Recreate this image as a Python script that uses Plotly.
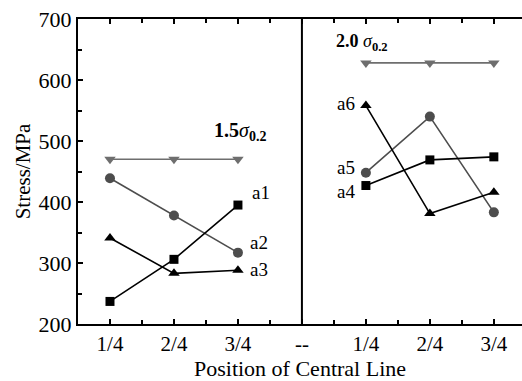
import plotly.graph_objects as go

# categories: positions 1..3 = group 1.5σ, 4 = divider, 5..7 = group 2.0σ
tick_positions = [1, 2, 3, 4, 5, 6, 7]
tick_labels = ["1/4", "2/4", "3/4", "--", "1/4", "2/4", "3/4"]
y_ticks = [200, 300, 400, 500, 600, 700]

left_x = [1, 2, 3]
right_x = [5, 6, 7]

ref_left = [470, 470, 470]
a1 = [237, 306, 395]
a2 = [439, 378, 317]
a3 = [341, 283, 288]

ref_right = [628, 628, 628]
a4 = [427, 469, 474]
a5 = [448, 540, 383]
a6 = [558, 381, 416]

FONT = "Liberation Serif, Times New Roman, serif"
BLACK = "#000000"
DARK = "#4d4d4d"
GRAY = "#6e6e6e"

fig = go.Figure()

def add(x, y, color, symbol, size):
    fig.add_trace(go.Scatter(
        x=x, y=y, mode="lines+markers",
        line=dict(color=color, width=1.6),
        marker=dict(symbol=symbol, size=size, color=color),
        showlegend=False, cliponaxis=False))

add(left_x, ref_left, GRAY, "triangle-down", 10)
add(left_x, a2, DARK, "circle", 10)
add(left_x, a3, BLACK, "triangle-up", 10)
add(left_x, a1, BLACK, "square", 9)
add(right_x, ref_right, GRAY, "triangle-down", 10)
add(right_x, a5, DARK, "circle", 10)
add(right_x, a6, BLACK, "triangle-up", 10)
add(right_x, a4, BLACK, "square", 9)

# divider line at the "--" category
fig.add_shape(type="line", xref="x", yref="y", x0=4, x1=4, y0=200, y1=700,
              line=dict(color=BLACK, width=2))

ann = [
    (3.19, 416, "a1", "left"),
    (3.16, 334, "a2", "left"),
    (3.16, 289, "a3", "left"),
    (4.86, 418, "a4", "right"),
    (4.86, 457, "a5", "right"),
    (4.86, 561, "a6", "right"),
]
for x, y, t, anc in ann:
    fig.add_annotation(x=x, y=y, xref="x", yref="y", text=t, showarrow=False,
                       xanchor=anc, yanchor="middle",
                       font=dict(family=FONT, size=19, color=BLACK))

fig.add_annotation(x=2.59, y=515, xref="x", yref="y",
                   text="<b>1.5</b><i>σ</i><sub><b>0.2</b></sub>", showarrow=False,
                   xanchor="left", yanchor="middle",
                   font=dict(family=FONT, size=20, color=BLACK))
fig.add_annotation(x=4.5, y=661, xref="x", yref="y",
                   text="<b>2.0</b> <i>σ</i><sub><b>0.2</b></sub>", showarrow=False,
                   xanchor="left", yanchor="middle",
                   font=dict(family=FONT, size=18, color=BLACK))

fig.update_layout(
    width=522, height=381,
    margin=dict(l=78, r=0, t=19, b=57),
    paper_bgcolor="white", plot_bgcolor="white",
    font=dict(family=FONT, color=BLACK),
    xaxis=dict(
        range=[0.5, 7.44], tickmode="array", tickvals=tick_positions,
        ticktext=tick_labels, automargin=False,
        showgrid=False, zeroline=False, showline=True, linecolor=BLACK, linewidth=2,
        ticks="inside", ticklen=5, tickwidth=1.5, tickcolor=BLACK, mirror="ticks",
        minor=dict(tickvals=[1.5, 2.5, 3.5, 4.5, 5.5, 6.5], ticks="inside", ticklen=4,
                   tickwidth=1.5, tickcolor=BLACK),
        tickfont=dict(family=FONT, size=21, color=BLACK),
        title=dict(text="Position of Central Line",
                   font=dict(family=FONT, size=22, color=BLACK), standoff=0),
    ),
    yaxis=dict(
        range=[200, 700], tickmode="array", tickvals=y_ticks,
        ticktext=[str(v) for v in y_ticks], automargin=False,
        showgrid=False, zeroline=False, showline=True, linecolor=BLACK, linewidth=2,
        ticks="inside", ticklen=5, tickwidth=1.5, tickcolor=BLACK,
        minor=dict(tickvals=[250, 350, 450, 550, 650], ticks="inside", ticklen=4,
                   tickwidth=1.5, tickcolor=BLACK),
        tickfont=dict(family=FONT, size=22, color=BLACK),
        title=dict(text="Stress/MPa", font=dict(family=FONT, size=21, color=BLACK), standoff=2),
    ),
)

fig.write_html("out.html", config={"displayModeBar": False},
               post_script="document.body.style.margin='0';document.body.style.overflow='hidden';")
